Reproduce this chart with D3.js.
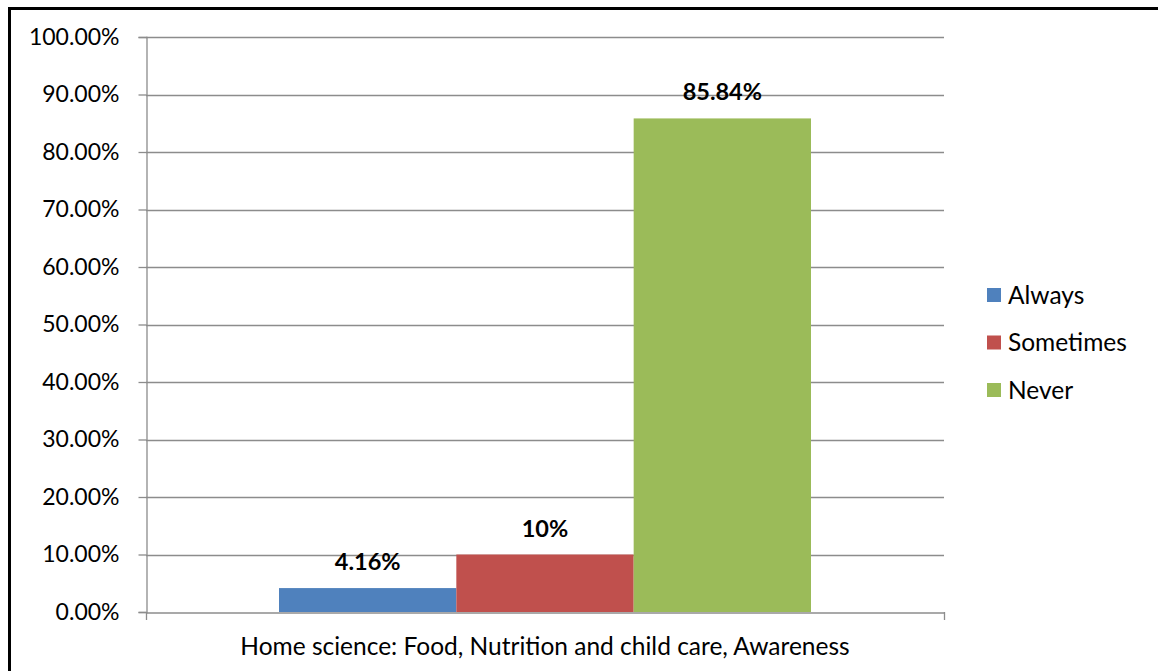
<!DOCTYPE html>
<html>
<head>
<meta charset="utf-8">
<script src="https://cdn.jsdelivr.net/npm/d3@7/dist/d3.min.js"></script>
<style>
  html, body { margin: 0; padding: 0; background: #fff; }
  svg { display: block; font-family: Lato, "Open Sans", sans-serif; }
</style>
</head>
<body>
<svg id="chart" width="1158" height="671"></svg>
<script>
// Awareness responses for one category
const category = "Home science: Food, Nutrition and child care, Awareness";
const series = ["Always", "Sometimes", "Never"];
const values = [4.16, 10, 85.84];
const valueLabels = ["4.16%", "10%", "85.84%"];
const colors = ["#4f81bd", "#c0504d", "#9bbb59"];
const yTicks = [0, 10, 20, 30, 40, 50, 60, 70, 80, 90, 100];

const svg = d3.select("#chart");

// outer frame (top and left edges)
svg.append("line").attr("x1", 9.5).attr("x2", 1158).attr("y1", 8.5).attr("y2", 8.5)
  .attr("stroke", "#000").attr("stroke-width", 3);
svg.append("line").attr("x1", 9.5).attr("x2", 9.5).attr("y1", 7).attr("y2", 671)
  .attr("stroke", "#000").attr("stroke-width", 3);

const plot = { left: 146, right: 944, top: 37, bottom: 612 };

const y = d3.scaleLinear().domain([0, 100]).range([plot.bottom, plot.top]);
const x0 = d3.scaleBand().domain([category]).range([plot.left, plot.right]).paddingInner(0).paddingOuter(0);
// gap of 150% of a bar width on each category: 3 bars + 1.5 gap
const groupW = x0.bandwidth() * 3 / 4.5;
const x1 = d3.scaleBand().domain(series)
  .range([x0(category) + (x0.bandwidth() - groupW) / 2, x0(category) + (x0.bandwidth() + groupW) / 2]);

// horizontal gridlines
svg.append("g").selectAll("line").data(yTicks.filter(t => t > 0)).join("line")
  .attr("x1", plot.left).attr("x2", plot.right)
  .attr("y1", d => Math.round(y(d)) + 0.5).attr("y2", d => Math.round(y(d)) + 0.5)
  .attr("stroke", "#8c8c8c").attr("stroke-width", 1.3);

// y axis
const yAxis = svg.append("g").attr("transform", `translate(${plot.left + 0.5},0)`)
  .call(d3.axisLeft(y).tickValues(yTicks).tickSize(8).tickPadding(19)
    .tickFormat(d => d.toFixed(2) + "%"));
yAxis.select(".domain").attr("stroke", "#8c8c8c").attr("stroke-width", 1.3);
yAxis.selectAll(".tick line").attr("stroke", "#8c8c8c").attr("stroke-width", 1.3);
yAxis.selectAll(".tick text").attr("fill", "#000").style("font-size", "23px")
  .style("font-family", "Lato, 'Open Sans', sans-serif");

// bars
svg.append("g").selectAll("rect").data(series).join("rect")
  .attr("x", d => x1(d))
  .attr("width", x1.bandwidth())
  .attr("y", (d, i) => y(values[i]))
  .attr("height", (d, i) => y(0) - y(values[i]))
  .attr("fill", (d, i) => colors[i]);

// x axis
const xAxis = svg.append("g").attr("transform", `translate(0,${plot.bottom + 0.5})`)
  .call(d3.axisBottom(x0).tickSize(0).tickFormat(""));
xAxis.select(".domain").attr("stroke", "#8c8c8c").attr("stroke-width", 1.3);
svg.append("g").selectAll("line").data([plot.left, plot.right]).join("line")
  .attr("x1", d => d + 0.5).attr("x2", d => d + 0.5)
  .attr("y1", plot.bottom).attr("y2", plot.bottom + 8)
  .attr("stroke", "#8c8c8c").attr("stroke-width", 1.3);

svg.append("text")
  .attr("x", x0(category) + x0.bandwidth() / 2)
  .attr("y", 655)
  .attr("text-anchor", "middle")
  .style("font-size", "24.5px")
  .text(category);

// value labels
svg.append("g").selectAll("text").data(series).join("text")
  .attr("x", d => x1(d) + x1.bandwidth() / 2)
  .attr("y", (d, i) => y(values[i]) - 18)
  .attr("text-anchor", "middle")
  .style("font-size", "23.5px").style("font-weight", "bold")
  .text((d, i) => valueLabels[i]);

// legend
const legend = svg.append("g").attr("transform", "translate(987,0)");
const lg = legend.selectAll("g").data(series).join("g")
  .attr("transform", (d, i) => `translate(0,${288 + i * 47.5})`);
lg.append("rect").attr("width", 14).attr("height", 14).attr("fill", (d, i) => colors[i]);
lg.append("text").attr("x", 21).attr("y", 15.5).style("font-size", "24.5px").text(d => d);
</script>
</body>
</html>
